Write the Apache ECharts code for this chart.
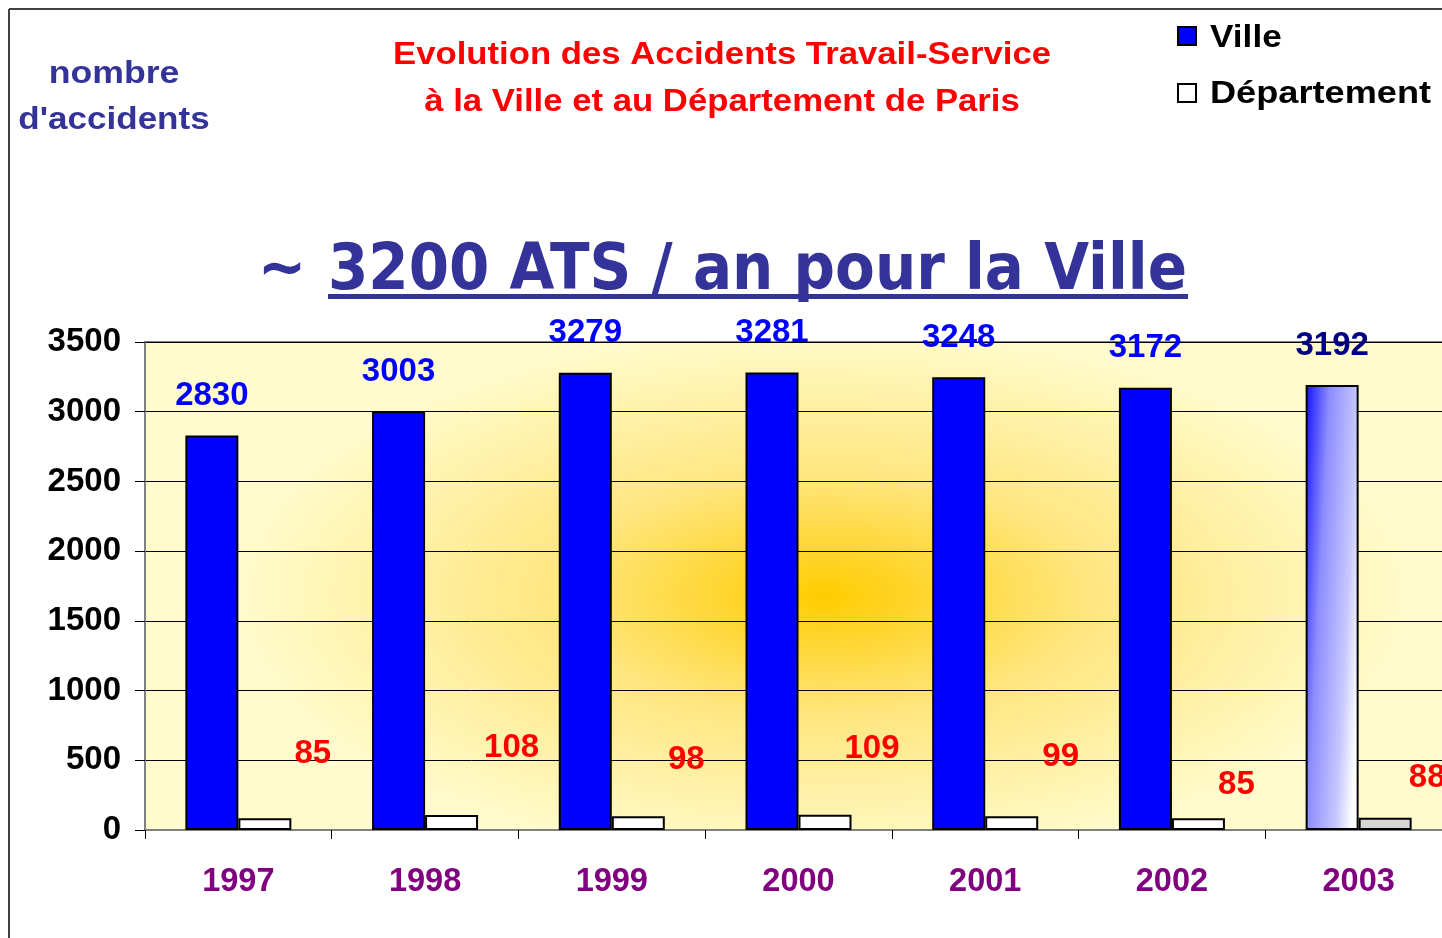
<!DOCTYPE html>
<html>
<head>
<meta charset="utf-8">
<script src="https://cdn.jsdelivr.net/npm/echarts@6/dist/echarts.min.js"></script>
<style>html,body{margin:0;padding:0;background:#fff;overflow:hidden;}#c{width:1470px;height:938px;}</style>
</head>
<body>
<div id="c"></div>
<script>
const years = ['1997', '1998', '1999', '2000', '2001', '2002', '2003'];
const ville = [2830, 3003, 3279, 3281, 3248, 3172, 3192];
const departement = [85, 108, 98, 109, 99, 85, 88];
const yMin = 0, yMax = 3500, yStep = 500;
const seriesNames = ['Ville', 'Département'];
const titleLines = ['Evolution des Accidents Travail-Service', 'à la Ville et au Département de Paris'];
const yNameLines = ['nombre', "d'accidents"];
const bigTitle = '3200 ATS / an pour la Ville';

// label placement styles (manually dragged labels in the original)
const deptLabelShift = [[48, -43], [60, -46], [48, -35], [47, -44], [49, -38], [38, -12], [42, -18]];

const AR = '"Liberation Sans", Arial, sans-serif';
const lastIdx = years.length - 1;

const villeData = ville.map((v, i) => {
  if (i !== lastIdx) return v;
  return {
    value: v,
    itemStyle: {
      color: { type: 'linear', x: 0, y: 0, x2: 1.3, y2: 0.008,
        colorStops: [{ offset: 0, color: '#1010FF' }, { offset: 0.35, color: '#8C8CFF' }, { offset: 0.77, color: '#C8C8FF' }, { offset: 1, color: '#FFFFFF' }] }
    },
    label: { color: '#000080' }
  };
});
const deptData = departement.map((v, i) => {
  const d = { value: v, label: { offset: deptLabelShift[i] } };
  if (i === lastIdx) d.itemStyle = { color: '#D6D6D6' };
  return d;
});

const txt = (x, y, text, font, fill, sx, align) => ({
  type: 'text', x: x, y: y, scaleX: sx || 1,
  style: { text: text, font: font, fill: fill, align: align || 'center', verticalAlign: 'middle', textAlign: align || 'center', textVerticalAlign: 'middle' }
});

const chart = echarts.init(document.getElementById('c'), null, { renderer: 'canvas' });
chart.setOption({
  animation: false,
  backgroundColor: '#ffffff',
  grid: { left: 145, top: 342, width: 1307, height: 488, show: true, borderColor: '#808080', borderWidth: 2, backgroundColor: 'transparent' },
  xAxis: {
    type: 'category', data: years,
    axisLine: { lineStyle: { color: '#808080', width: 2 } },
    axisTick: { show: true, length: 9, interval: 0, lineStyle: { color: '#000', width: 1 } },
    axisLabel: { margin: 36, color: '#800080', fontSize: 32.5, fontWeight: 'bold', fontFamily: AR, interval: 0 }
  },
  yAxis: {
    type: 'value', min: yMin, max: yMax, interval: yStep,
    axisLine: { show: true, lineStyle: { color: '#808080', width: 2 } },
    axisTick: { show: true, length: 10, lineStyle: { color: '#000', width: 1 } },
    axisLabel: { margin: 24, color: '#000', fontSize: 33, fontWeight: 'bold', fontFamily: AR, formatter: v => String(v) },
    splitLine: { show: true, lineStyle: { color: '#000', width: 1 } }
  },
  series: [
    {
      name: seriesNames[0], type: 'bar', data: villeData, barWidth: 53, barGap: '0%',
      itemStyle: { color: '#0000FF', borderColor: '#000', borderWidth: 2 },
      label: { show: true, position: 'top', distance: 23, color: '#0000FF', fontSize: 33, fontWeight: 'bold', fontFamily: AR }
    },
    {
      name: seriesNames[1], type: 'bar', data: deptData, barWidth: 53, barGap: '0%',
      itemStyle: { color: '#FFFFFF', borderColor: '#000', borderWidth: 2 },
      label: { show: true, position: 'top', distance: 5, color: '#FF0000', fontSize: 33, fontWeight: 'bold', fontFamily: AR }
    }
  ],
  graphic: [
    { type: 'rect', z: -10, x: 145, y: 342, scaleX: 2.2,
      shape: { x: 0, y: 0, width: 594, height: 488 },
      style: { fill: { type: 'radial', x: 0.52, y: 0.52, r: 0.55,
        colorStops: [{ offset: 0, color: '#FFCC00' }, { offset: 0.45, color: '#FFE680' }, { offset: 1, color: '#FFFBCC' }] } } },
    { type: 'line', z: 10, shape: { x1: 9, y1: 9, x2: 1470, y2: 9 }, style: { stroke: '#404040', lineWidth: 2 } },
    { type: 'line', z: 10, shape: { x1: 9, y1: 9, x2: 9, y2: 938 }, style: { stroke: '#404040', lineWidth: 2 } },
    txt(722, 55, titleLines[0], 'bold 31px ' + AR, '#FF0000', 1.12),
    txt(722, 102, titleLines[1], 'bold 31px ' + AR, '#FF0000', 1.12),
    txt(114, 74, yNameLines[0], 'bold 31px ' + AR, '#333399', 1.15),
    txt(114, 120, yNameLines[1], 'bold 31px ' + AR, '#333399', 1.13),
    // legend
    { type: 'rect', shape: { x: 1178, y: 27, width: 18, height: 18 }, style: { fill: '#0000FF', stroke: '#000', lineWidth: 2 } },
    { type: 'rect', shape: { x: 1178, y: 84, width: 18, height: 18 }, style: { fill: '#FFFFFF', stroke: '#000', lineWidth: 2 } },
    txt(1210, 38, seriesNames[0], 'bold 32px ' + AR, '#000', 1.1, 'left'),
    txt(1210, 94, seriesNames[1], 'bold 32px ' + AR, '#000', 1.13, 'left'),
    // big heading
    { type: 'text', x: 282, y: 303, scaleY: 1.1, style: { text: '~', font: 'bold 58px "DejaVu Sans"', fill: '#333399', align: 'center', verticalAlign: 'bottom', textAlign: 'center', textVerticalAlign: 'bottom' } },
    { type: 'text', x: 328, y: 304, scaleY: 1.1, style: { text: bigTitle, font: 'bold 58px "DejaVu Sans"', fill: '#333399', align: 'left', verticalAlign: 'bottom', textAlign: 'left', textVerticalAlign: 'bottom' } },
    { type: 'rect', shape: { x: 328, y: 294, width: 860, height: 5 }, style: { fill: '#333399' } }
  ]
});
</script>
</body>
</html>
